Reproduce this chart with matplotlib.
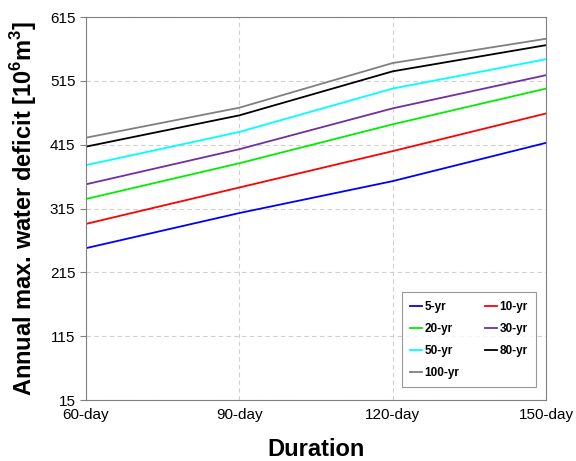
import matplotlib
matplotlib.use("Agg")
import matplotlib.pyplot as plt

plt.rcParams['font.family'] = ['Liberation Sans', 'DejaVu Sans']

durations = ['60-day', '90-day', '120-day', '150-day']
periods = ['5-yr', '10-yr', '20-yr', '30-yr', '50-yr', '80-yr', '100-yr']
deficit = {
    '5-yr':   [253, 308, 358, 418],
    '10-yr':  [291, 348, 405, 464],
    '20-yr':  [330, 386, 447, 503],
    '30-yr':  [353, 408, 472, 524],
    '50-yr':  [383, 435, 503, 549],
    '80-yr':  [412, 461, 530, 571],
    '100-yr': [426, 473, 543, 581],
}
colors = ['#0000ff', '#ff0000', '#00ee00', '#7030a0', '#00ffff', '#000000', '#808080']
yticks = [15, 115, 215, 315, 415, 515, 615]

fig = plt.figure(figsize=(5.76, 4.61), dpi=100)
ax = fig.add_axes([0.149, 0.132, 0.799, 0.831])

x = range(len(durations))
lines = {}
for name, c in zip(periods, colors):
    lines[name], = ax.plot(x, deficit[name], color=c, lw=1.3, label=name)

ax.set_xlim(0, 3)
ax.set_ylim(15, 615)
ax.set_xticks(list(x))
ax.set_xticklabels(durations, fontsize=11)
ax.set_yticks(yticks)
ax.tick_params(axis='y', labelsize=11, length=4, direction='out', color='#808080')
ax.tick_params(axis='x', length=0, pad=6)
ax.grid(True, ls=(0, (4, 3)), color='#d0d0d0', lw=0.8)
for s in ax.spines.values():
    s.set_color('#808080')

ax.set_xlabel('Duration', fontsize=17, fontweight='bold', labelpad=11)
ax.set_ylabel('Annual max. water deficit [10$^{\\mathregular{6}}$m$^{\\mathregular{3}}$]',
              fontsize=17, fontweight='bold', labelpad=8)

# legend fills column-wise, so order the entries to read row by row
order = ['5-yr', '20-yr', '50-yr', '100-yr', '10-yr', '30-yr', '80-yr']
leg = ax.legend([lines[n] for n in order], order, ncol=2, loc='lower right',
                bbox_to_anchor=(0.978, 0.034), borderaxespad=0,
                prop={'weight': 'bold', 'size': 8.5}, handlelength=1.0,
                handletextpad=0.2, columnspacing=2.2, labelspacing=0.85,
                fancybox=False, borderpad=0.7)
leg.get_frame().set_edgecolor('#808080')
leg.get_frame().set_linewidth(0.8)

fig.savefig('out.png', dpi=100)
